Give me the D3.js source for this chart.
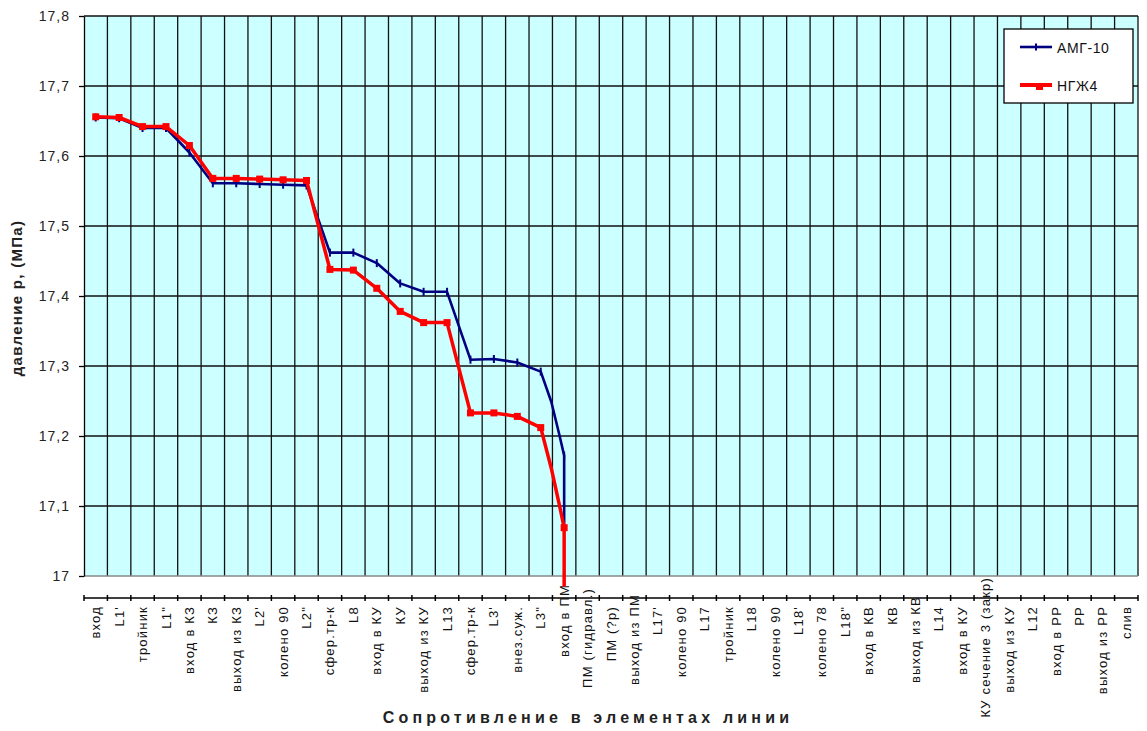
<!DOCTYPE html>
<html>
<head>
<meta charset="utf-8">
<script src="https://cdn.jsdelivr.net/npm/d3@7"></script>
<style>
  html, body { margin: 0; padding: 0; background: #fff; }
  svg { display: block; font-family: "Liberation Sans", Arial, sans-serif; }
</style>
</head>
<body>
<svg id="chart" width="1147" height="731"></svg>
<script>
// Pipeline elements along the line (category axis)
const categories = [
  "вход", "L1'", "тройник", "L1\"", "вход в КЗ", "КЗ", "выход из КЗ", "L2'", "колено 90", "L2\"",
  "сфер.тр-к", "L8", "вход в КУ", "КУ", "выход из КУ", "L13", "сфер.тр-к", "L3'", "внез.суж.", "L3\"",
  "вход в ПМ", "ПМ (гидравл.)", "ПМ (?р)", "выход из ПМ", "L17'", "колено 90", "L17", "тройник", "L18", "колено 90",
  "L18'", "колено 78", "L18\"", "вход в КВ", "КВ", "выход из КВ", "L14", "вход в КУ", "КУ сечение 3 (закр)", "выход из КУ",
  "L12", "вход в РР", "РР", "выход из РР", "слив"
];

// Position of each computed point along the category axis (element index)
const pointPos = [0, 1, 2, 3, 4, 5, 6, 7, 8, 9, 10, 11, 12, 13, 14, 15, 16, 17, 18, 19, 19.45, 19.8, 20, 20];

// Pressure, MPa, for each fluid
const amg10 = [17.655, 17.654, 17.640, 17.640, 17.605, 17.561, 17.561, 17.560, 17.559, 17.558,
               17.462, 17.462, 17.447, 17.418, 17.406, 17.406, 17.309, 17.310, 17.305, 17.292,
               17.249, 17.201, 17.172, 17.068];
const ngzh4 = [17.656, 17.655, 17.642, 17.642, 17.615, 17.568, 17.568, 17.567, 17.566, 17.565,
               17.438, 17.437, 17.411, 17.378, 17.362, 17.362, 17.233, 17.233, 17.228, 17.212,
               17.154, 17.101, 17.069, 16.985];

const yTicks = [17, 17.1, 17.2, 17.3, 17.4, 17.5, 17.6, 17.7, 17.8];
const seriesNames = ["АМГ-10", "НГЖ4"];

// ---- layout ----
const plot = { left: 84, right: 1138, top: 16, bottom: 576 };
const axisY = 598;
const svg = d3.select("#chart");

const x = d3.scaleLinear().domain([-0.5, categories.length - 0.5]).range([plot.left, plot.right]);
const y = d3.scaleLinear().domain([17, 17.8]).range([plot.bottom, plot.top]);
const fmt = v => (Math.round(v * 10) / 10).toString().replace(".", ",");

// plot background
svg.append("rect")
  .attr("x", plot.left).attr("y", plot.top)
  .attr("width", plot.right - plot.left).attr("height", plot.bottom - plot.top)
  .attr("fill", "#CCFFFF");

// grid: horizontal at each value tick, vertical at category boundaries
const grid = svg.append("g").attr("stroke", "#111").attr("stroke-width", 1.3);
grid.selectAll("line.h").data(yTicks.filter(v => v > 17)).enter().append("line")
  .attr("x1", plot.left).attr("x2", plot.right)
  .attr("y1", d => y(d)).attr("y2", d => y(d));
grid.selectAll("line.v").data(d3.range(1, categories.length + 1)).enter().append("line")
  .attr("x1", d => x(d - 0.5)).attr("x2", d => x(d - 0.5))
  .attr("y1", plot.top).attr("y2", plot.bottom);
svg.append("line")
  .attr("x1", plot.left).attr("x2", plot.right)
  .attr("y1", plot.bottom).attr("y2", plot.bottom)
  .attr("stroke", "#888").attr("stroke-width", 1.3);

// value axis
const yAxis = svg.append("g")
  .attr("transform", `translate(${plot.left},0)`)
  .call(d3.axisLeft(y).tickValues(yTicks).tickFormat(fmt).tickSize(5).tickSizeOuter(0).tickPadding(9));
yAxis.select(".domain").attr("stroke", "#000").attr("stroke-width", 1.3);
yAxis.selectAll(".tick line").attr("stroke", "#000").attr("stroke-width", 1.3);
yAxis.selectAll(".tick text")
  .attr("font-size", 14).attr("fill", "#222").attr("letter-spacing", 1)
  .attr("font-family", "'Liberation Sans', Arial, sans-serif");

// category axis
const xAxis = svg.append("g").attr("transform", `translate(0,${axisY})`);
xAxis.append("line").attr("x1", plot.left).attr("x2", plot.right).attr("stroke", "#000").attr("stroke-width", 1.5);
xAxis.selectAll("line.t").data(d3.range(0, categories.length + 1)).enter().append("line")
  .attr("x1", d => x(d - 0.5)).attr("x2", d => x(d - 0.5))
  .attr("y1", -3).attr("y2", 3)
  .attr("stroke", "#000").attr("stroke-width", 1.5);

// some long-named elements sit a little higher
const labelLift = { 20: 22, 21: 18, 23: 12, 35: 10, 38: 29 };
svg.append("g").selectAll("text").data(categories).enter().append("text")
  .attr("transform", (d, i) => `translate(${x(i)},${606 - (labelLift[i] || 0)}) rotate(-90)`)
  .attr("text-anchor", "end")
  .attr("dy", "0.35em")
  .attr("font-size", 13)
  .attr("letter-spacing", 1.2)
  .attr("fill", "#111")
  .text(d => d);

// axis titles
svg.append("text")
  .attr("x", 588).attr("y", 723)
  .attr("text-anchor", "middle")
  .attr("font-size", 16).attr("font-weight", "bold").attr("letter-spacing", 4.2)
  .attr("fill", "#222")
  .text("Сопротивление в элементах линии");
svg.append("text")
  .attr("transform", "translate(22,298) rotate(-90)")
  .attr("text-anchor", "middle")
  .attr("font-size", 15).attr("font-weight", "bold").attr("letter-spacing", 1.3)
  .attr("fill", "#222")
  .text("давление р, (МПа)");

// series
const line = d3.line().x(d => x(d[0])).y(d => y(d[1]));
const amgPts = pointPos.map((p, i) => [p, amg10[i]]);
const ngzPts = pointPos.map((p, i) => [p, ngzh4[i]]);
// markers are shown at the element positions only
const marked = (pts) => pts.filter((d, i) => Number.isInteger(d[0]) && i < pts.length - 1);

svg.append("path").datum(amgPts).attr("d", line)
  .attr("fill", "none").attr("stroke", "#000080").attr("stroke-width", 2.6).attr("stroke-linejoin", "round");
svg.append("g").selectAll("line").data(marked(amgPts)).enter().append("line")
  .attr("x1", d => x(d[0])).attr("x2", d => x(d[0]))
  .attr("y1", d => y(d[1]) - 4).attr("y2", d => y(d[1]) + 4)
  .attr("stroke", "#000080").attr("stroke-width", 2);

svg.append("path").datum(ngzPts).attr("d", line)
  .attr("fill", "none").attr("stroke", "#FF0000").attr("stroke-width", 3.5).attr("stroke-linejoin", "round");
svg.append("g").selectAll("rect").data(marked(ngzPts)).enter().append("rect")
  .attr("x", d => x(d[0]) - 3.5).attr("y", d => y(d[1]) - 3.5)
  .attr("width", 7).attr("height", 7)
  .attr("fill", "#FF0000");

// legend
const legend = svg.append("g");
legend.append("rect")
  .attr("x", 1004).attr("y", 29).attr("width", 129).attr("height", 74)
  .attr("fill", "#fff").attr("stroke", "#000").attr("stroke-width", 1.3);
const legendRows = [
  { name: seriesNames[0], color: "#000080", w: 2.6, y: 47 },
  { name: seriesNames[1], color: "#FF0000", w: 4, y: 85 }
];
legendRows.forEach((r, i) => {
  legend.append("line").attr("x1", 1020).attr("x2", 1052).attr("y1", r.y).attr("y2", r.y)
    .attr("stroke", r.color).attr("stroke-width", r.w);
  if (i === 0) {
    legend.append("line").attr("x1", 1036).attr("x2", 1036).attr("y1", r.y - 3.5).attr("y2", r.y + 3.5)
      .attr("stroke", r.color).attr("stroke-width", 2);
  } else {
    legend.append("rect").attr("x", 1036).attr("y", r.y - 1).attr("width", 7).attr("height", 6).attr("fill", r.color);
  }
  legend.append("text").attr("x", 1057).attr("y", r.y + 6)
    .attr("font-size", 14).attr("letter-spacing", 0.6).attr("fill", "#111")
    .text(r.name);
});
</script>
</body>
</html>
